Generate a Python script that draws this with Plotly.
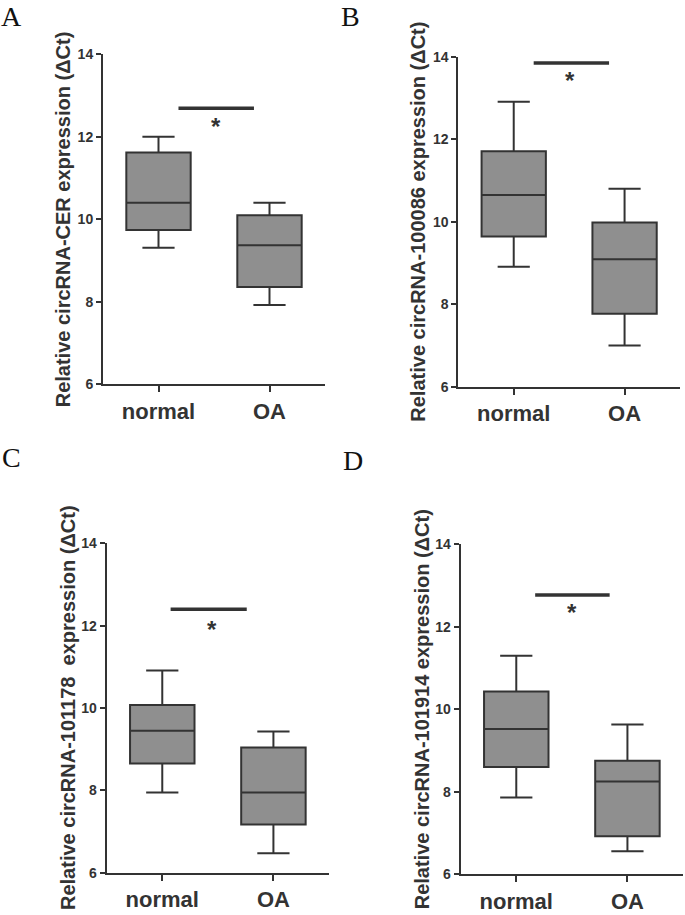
import plotly.graph_objects as go

W, H = 685, 915

groups = ["normal", "OA"]
panel_letters = ["A", "B", "C", "D"]
y_titles = [
    "Relative circRNA-CER expression (ΔCt)",
    "Relative circRNA-100086 expression (ΔCt)",
    "Relative circRNA-101178\u00a0 expression (ΔCt)",
    "Relative circRNA-101914 expression (ΔCt)",
]
y_ticks = [6, 8, 10, 12, 14]

# box statistics per panel: [normal, OA]
A_min = [9.31, 7.92]; A_q1 = [9.74, 8.36]; A_med = [10.40, 9.37]; A_q3 = [11.62, 10.10]; A_max = [12.00, 10.40]
B_min = [8.91, 7.00]; B_q1 = [9.64, 7.77]; B_med = [10.65, 9.09]; B_q3 = [11.71, 9.98]; B_max = [12.91, 10.80]
C_min = [7.95, 6.47]; C_q1 = [8.65, 7.17]; C_med = [9.45, 7.95]; C_q3 = [10.07, 9.04]; C_max = [10.91, 9.43]
D_min = [7.86, 6.56]; D_q1 = [8.60, 6.92]; D_med = [9.52, 8.25]; D_q3 = [10.43, 8.75]; D_max = [11.30, 9.63]

# significance bar: y level, x start, x end ; star position
sig_y = [12.69, 13.85, 12.40, 12.77]
sig_x0 = [0.18, 0.18, 0.075, 0.17]
sig_x1 = [0.86, 0.86, 0.76, 0.84]
star_x = [0.52, 0.51, 0.45, 0.50]
star_y = [12.35, 13.52, 12.00, 12.44]

stats = [
    (A_min, A_q1, A_med, A_q3, A_max),
    (B_min, B_q1, B_med, B_q3, B_max),
    (C_min, C_q1, C_med, C_q3, C_max),
    (D_min, D_q1, D_med, D_q3, D_max),
]

# pixel layout of each plot area: (x_left, x_right, y_top, y_bottom)
areas = [
    (103, 325, 54.3, 384.3),
    (458.3, 680, 56.7, 386.7),
    (106.7, 329, 543.3, 872.7),
    (460.7, 683, 544.3, 874.3),
]
title_x = [63, 418, 68, 422]
letter_pos = [(0, 0), (340, 0), (1, 441), (342, 444)]

INK = "#333333"
FILL = "#8f8f8f"
SANS = "Arial, 'Liberation Sans', sans-serif"
SERIF = "'Times New Roman', 'Liberation Serif', serif"

fig = go.Figure()
layout = dict(
    width=W, height=H, margin=dict(l=0, r=0, t=0, b=0, autoexpand=False),
    paper_bgcolor="white", plot_bgcolor="white", showlegend=False,
    shapes=[], annotations=[],
)

for i in range(4):
    mn, q1, md, q3, mx = stats[i]
    xl, xr, yt, yb = areas[i]
    sx = "" if i == 0 else str(i + 1)
    xa, ya = "x" + sx, "y" + sx
    fig.add_trace(go.Box(
        x=[0, 1], q1=q1, median=md, q3=q3, lowerfence=mn, upperfence=mx,
        xaxis=xa, yaxis=ya, width=0.58, whiskerwidth=0.5,
        fillcolor=FILL, line=dict(color=INK, width=2),
        boxpoints=False, hoverinfo="skip",
    ))
    layout["xaxis" + sx] = dict(
        domain=[xl / W, xr / W], anchor=ya, range=[-0.5, 1.5], automargin=False,
        tickvals=[0, 1], ticktext=groups, ticks="outside", ticklen=6,
        tickwidth=2, tickcolor=INK, showline=True, linecolor=INK, linewidth=2,
        showgrid=False, zeroline=False, fixedrange=True,
        tickfont=dict(family=SANS, size=22, color=INK, weight="bold"),
    )
    layout["yaxis" + sx] = dict(
        domain=[1 - yb / H, 1 - yt / H], anchor=xa, range=[6, 14], automargin=False,
        tickvals=y_ticks, ticks="outside", ticklen=5,
        tickwidth=2, tickcolor=INK, showline=True, linecolor=INK, linewidth=2,
        showgrid=False, zeroline=False, fixedrange=True,
        tickfont=dict(family=SANS, size=14, color=INK, weight="bold"),
    )
    layout["shapes"].append(dict(
        type="line", xref=xa, yref=ya, x0=sig_x0[i], x1=sig_x1[i],
        y0=sig_y[i], y1=sig_y[i], line=dict(color=INK, width=3.5),
    ))
    layout["annotations"].append(dict(
        xref=xa, yref=ya, x=star_x[i], y=star_y[i], text="*", showarrow=False,
        font=dict(family=SANS, size=24, color=INK, weight="bold"),
        xanchor="center", yanchor="middle", yshift=-4,
    ))
    layout["annotations"].append(dict(
        xref="paper", yref="paper", x=title_x[i] / W, y=1 - (yt + yb) / 2 / H,
        text=y_titles[i], textangle=-90, showarrow=False,
        font=dict(family=SANS, size=20, color=INK, weight="bold"),
        xanchor="center", yanchor="middle",
    ))
    lx, ly = letter_pos[i]
    layout["annotations"].append(dict(
        xref="paper", yref="paper", x=lx / W, y=1 - ly / H,
        text=panel_letters[i], showarrow=False, borderpad=0,
        font=dict(family=SERIF, size=28, color="#111111"),
        xanchor="left", yanchor="top",
    ))

fig.update_layout(**layout)
fig.write_html(
    "out.html",
    config={"displayModeBar": False},
    post_script="document.body.style.margin='0';document.body.style.overflow='hidden';",
)
